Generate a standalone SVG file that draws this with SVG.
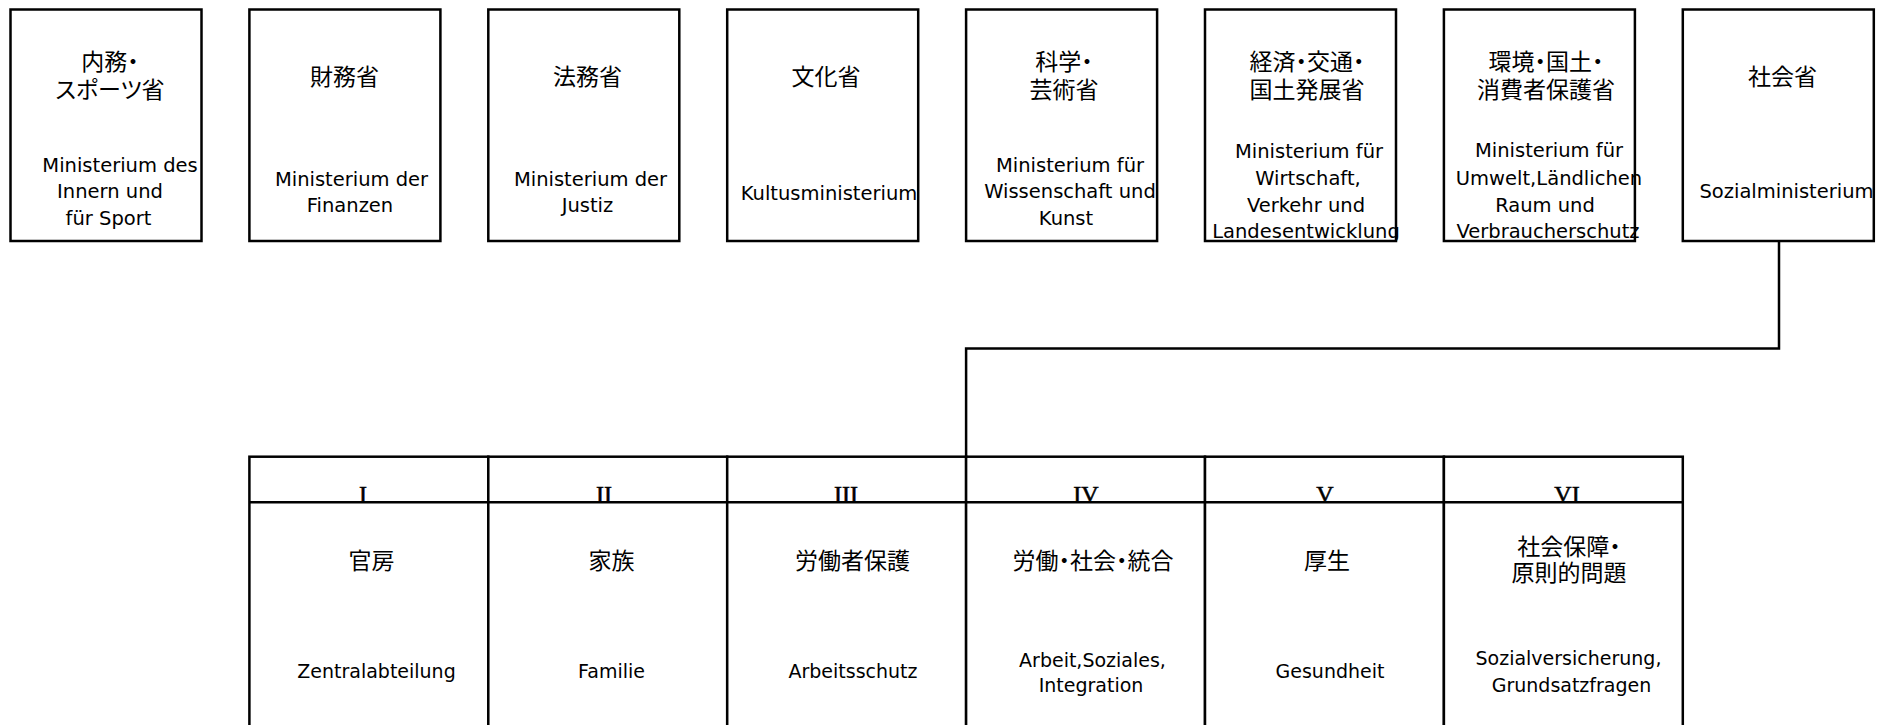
<svg xmlns="http://www.w3.org/2000/svg" width="1885" height="725" viewBox="0 0 1885 725">
<style>
.box{fill:#fff;stroke:#000;stroke-width:2.5}
.ln{fill:none;stroke:#000;stroke-width:2.5}
.jp{font-family:"Noto Sans CJK JP","Noto Sans CJK SC",sans-serif;font-size:23px;fill:#000;text-anchor:middle;font-feature-settings:"palt"}
.de{font-family:"DejaVu Sans","Liberation Sans",sans-serif;font-size:19.5px;fill:#000;text-anchor:middle}
.de2{font-family:"DejaVu Sans","Liberation Sans",sans-serif;font-size:19px;fill:#000;text-anchor:middle}
.rn{font-family:"Liberation Serif",serif;font-size:24px;fill:#000;stroke:#000;stroke-width:0.6;text-anchor:middle}
</style>
<rect width="1885" height="725" fill="#fff"/>
<g id="connectors">
<path class="ln" d="M1779,241 V348.5 H966.1 V456.7"/>
</g>
<g id="m1">
<rect class="box" x="10.5" y="9.5" width="191" height="231.5"/>
<text class="jp"><tspan x="110" y="70">内務・</tspan><tspan x="110" y="98">スポーツ省</tspan></text>
<text class="de"><tspan x="120" y="171.7">Ministerium des</tspan><tspan x="110" y="198.3">Innern und</tspan><tspan x="108.5" y="225">für Sport</tspan></text>
</g>
<g id="m2">
<rect class="box" x="249.4" y="9.5" width="191" height="231.5"/>
<text class="jp" x="344.5" y="84.5">財務省</text>
<text class="de"><tspan x="351.5" y="186">Ministerium der</tspan><tspan x="350" y="212">Finanzen</tspan></text>
</g>
<g id="m3">
<rect class="box" x="488.3" y="9.5" width="191" height="231.5"/>
<text class="jp" x="587.5" y="84.5">法務省</text>
<text class="de"><tspan x="590.5" y="186">Ministerium der</tspan><tspan x="587.5" y="212">Justiz</tspan></text>
</g>
<g id="m4">
<rect class="box" x="727.2" y="9.5" width="191" height="231.5"/>
<text class="jp" x="826" y="84.5">文化省</text>
<text class="de" x="829" y="200">Kultusministerium</text>
</g>
<g id="m5">
<rect class="box" x="966.1" y="9.5" width="191" height="231.5"/>
<text class="jp"><tspan x="1064" y="70">科学・</tspan><tspan x="1064" y="98">芸術省</tspan></text>
<text class="de"><tspan x="1070" y="171.7">Ministerium für</tspan><tspan x="1070" y="198.3">Wissenschaft und</tspan><tspan x="1066" y="225">Kunst</tspan></text>
</g>
<g id="m6">
<rect class="box" x="1205" y="9.5" width="191" height="231.5"/>
<text class="jp"><tspan x="1307" y="70">経済・交通・</tspan><tspan x="1307" y="98">国土発展省</tspan></text>
<text class="de"><tspan x="1309" y="158.3">Ministerium für</tspan><tspan x="1308" y="185">Wirtschaft,</tspan><tspan x="1306" y="211.7">Verkehr und</tspan><tspan x="1306" y="238.3">Landesentwicklung</tspan></text>
</g>
<g id="m7">
<rect class="box" x="1443.9" y="9.5" width="191" height="231.5"/>
<text class="jp"><tspan x="1546" y="70">環境・国土・</tspan><tspan x="1546" y="98">消費者保護省</tspan></text>
<text class="de"><tspan x="1549" y="156.7">Ministerium für</tspan><tspan x="1549" y="185">Umwelt,Ländlichen</tspan><tspan x="1545" y="211.7">Raum und</tspan><tspan x="1548" y="238.3">Verbraucherschutz</tspan></text>
</g>
<g id="m8">
<rect class="box" x="1682.8" y="9.5" width="191" height="231.5"/>
<text class="jp" x="1782.5" y="84.5">社会省</text>
<text class="de" x="1786.5" y="198.3">Sozialministerium</text>
</g>
<g id="d1">
<rect class="box" x="249.4" y="456.7" width="238.9" height="300"/>
<line class="ln" x1="249.4" y1="502.3" x2="488.3" y2="502.3"/>
<text class="rn" x="363" y="502">I</text>
<text class="jp" x="371.5" y="568.5">官房</text>
<text class="de2" x="376.5" y="678">Zentralabteilung</text>
</g>
<g id="d2">
<rect class="box" x="488.3" y="456.7" width="238.9" height="300"/>
<line class="ln" x1="488.3" y1="502.3" x2="727.2" y2="502.3"/>
<text class="rn" x="604" y="502">II</text>
<text class="jp" x="611.5" y="568.5">家族</text>
<text class="de2" x="611.5" y="678">Familie</text>
</g>
<g id="d3">
<rect class="box" x="727.2" y="456.7" width="238.9" height="300"/>
<line class="ln" x1="727.2" y1="502.3" x2="966.1" y2="502.3"/>
<text class="rn" x="846" y="502">III</text>
<text class="jp" x="852.5" y="568.5">労働者保護</text>
<text class="de2" x="853" y="678">Arbeitsschutz</text>
</g>
<g id="d4">
<rect class="box" x="966.1" y="456.7" width="238.9" height="300"/>
<line class="ln" x1="966.1" y1="502.3" x2="1205" y2="502.3"/>
<text class="rn" x="1086" y="502">IV</text>
<text class="jp" x="1093" y="568.5">労働・社会・統合</text>
<text class="de2"><tspan x="1092.5" y="666.5">Arbeit,Soziales,</tspan><tspan x="1091" y="691.5">Integration</tspan></text>
</g>
<g id="d5">
<rect class="box" x="1205" y="456.7" width="238.9" height="300"/>
<line class="ln" x1="1205" y1="502.3" x2="1443.9" y2="502.3"/>
<text class="rn" x="1325" y="502">V</text>
<text class="jp" x="1327" y="568.5">厚生</text>
<text class="de2" x="1330" y="678">Gesundheit</text>
</g>
<g id="d6">
<rect class="box" x="1443.9" y="456.7" width="238.9" height="300"/>
<line class="ln" x1="1443.9" y1="502.3" x2="1682.8" y2="502.3"/>
<text class="rn" x="1567" y="502">VI</text>
<text class="jp"><tspan x="1569" y="555">社会保障・</tspan><tspan x="1569" y="581">原則的問題</tspan></text>
<text class="de2"><tspan x="1568.5" y="665">Sozialversicherung,</tspan><tspan x="1571.5" y="691.5">Grundsatzfragen</tspan></text>
</g>
</svg>
